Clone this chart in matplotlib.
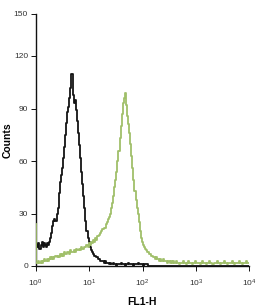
import numpy as np
import matplotlib
matplotlib.use("Agg")
import matplotlib.pyplot as plt

plt.rcParams['font.family'] = ['Liberation Sans', 'DejaVu Sans']
plt.rcParams['mathtext.fontset'] = 'custom'
plt.rcParams['mathtext.rm'] = 'Liberation Sans'
plt.rcParams['mathtext.it'] = 'Liberation Sans:italic'
plt.rcParams['mathtext.bf'] = 'Liberation Sans:bold'

# histogram counts per channel, one channel every 0.02 decade from 10^0 to 10^4
isotype = [79,
           12, 11, 13, 10, 12, 14, 11, 13, 12, 11, 13, 12, 14,
           16, 19, 23, 26, 27, 26, 30, 33, 42, 48, 52, 56, 62, 68, 75, 82, 88, 91, 96, 102, 110,
           98, 93, 95, 89, 83, 76, 69, 62, 54, 47, 40, 33, 26, 20, 16, 14,
           11, 9, 8, 7, 6, 6, 5, 5, 4, 4, 3, 3, 3, 2, 3, 2, 2, 2, 1, 2,
           1, 1, 2, 1, 1, 0, 1, 1, 1, 2, 1, 1, 1, 0, 1, 1, 2, 1, 1, 1,
           1, 0, 1, 1, 1, 2, 1, 1, 1, 1, 0, 1, 1, 1, 1] + [0] * 95
stained = [24,
           2, 2, 3, 2, 3, 2, 3, 4, 3, 3, 4, 3, 4, 5, 4,
           5, 4, 5, 6, 5, 6, 5, 7, 6, 7, 6, 8, 7, 7, 8, 8,
           7, 9, 8, 8, 9, 8, 10, 9, 9, 10, 9, 11, 10, 10, 11, 11,
           12, 11, 13, 12, 14, 13, 15, 14, 16, 15, 17, 17, 18, 19, 20,
           21, 22, 22, 24, 25, 27, 28, 30,
           33, 36, 40, 45, 49, 54, 60, 66, 73, 80, 87, 93, 96, 99,
           92, 86, 81, 76, 70, 63, 56, 49, 43, 38, 33, 30, 25, 20, 16, 14,
           12, 11, 10, 9, 8, 8, 7, 6, 6, 5, 5, 4, 5, 4, 4, 3, 4, 3, 3, 4, 3, 3, 2, 3, 3, 2, 3, 2, 3, 2,
           2, 3, 2, 2, 1, 2, 2, 3, 2, 2, 1, 2, 3, 2, 2, 2, 1, 2, 2, 3,
           2, 2, 2, 1, 2, 3, 2, 2, 2, 1, 2, 2, 3, 2, 2, 1, 2, 2, 2, 3,
           2, 2, 1, 2, 2, 2, 3, 2, 2, 1, 2, 2, 2, 3, 2, 1, 2, 2, 2, 2,
           3, 2, 2, 1, 2, 2, 3, 2, 2, 2]

ytick_pos = [0, 30, 60, 90, 120, 144]
ytick_lab = ['0', '30', '60', '90', '120', '150']
xtick_pos = [1, 10, 100, 1000, 10000]
xtick_lab = [r'$10^0$', r'$10^1$', r'$10^2$', r'$10^3$', r'$10^4$']

chan_iso = 10 ** (np.arange(len(isotype)) * 0.02)
chan_st = 10 ** (np.arange(len(stained)) * 0.02)

fig = plt.figure(figsize=(2.57, 3.06), dpi=100)
ax = fig.add_axes([35.7 / 257, 1 - 266 / 306, (249.3 - 35.7) / 257, (266 - 14) / 306])

ax.step(chan_iso, isotype, where='mid', color='#141414', lw=1.3, zorder=2)
ax.step(chan_st, stained, where='mid', color='#a0bf6a', lw=1.3, zorder=3)

ax.set_xscale('log')
ax.set_xlim(1, 10000)
ax.set_ylim(0, 144)
ax.set_xticks(xtick_pos)
ax.set_xticklabels(xtick_lab)
ax.minorticks_off()
ax.set_yticks(ytick_pos)
ax.set_yticklabels(ytick_lab)

for s in ['top', 'right']:
    ax.spines[s].set_visible(False)
for s in ['left', 'bottom']:
    ax.spines[s].set_linewidth(1.0)
    ax.spines[s].set_color('#111111')
ax.tick_params(direction='out', length=3.5, width=0.7, colors='#111111',
               labelsize=6, labelcolor='#333333')
ax.tick_params(axis='x', pad=5)
ax.tick_params(axis='y', pad=2)

ax.set_ylabel('Counts', fontsize=7.5, fontweight='bold')
ax.yaxis.set_label_coords(-0.108, 0.5)
ax.set_xlabel('FL1-H', fontsize=7.5, fontweight='bold', labelpad=6)

fig.savefig('out.png', dpi=100)
